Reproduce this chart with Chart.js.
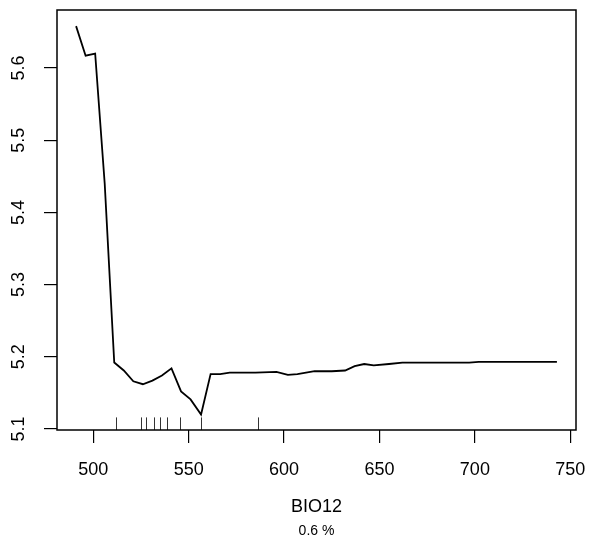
<!DOCTYPE html>
<html>
<head>
<meta charset="utf-8">
<script src="https://cdn.jsdelivr.net/npm/chart.js@4.4.1/dist/chart.umd.min.js"></script>
<style>
  html,body{margin:0;padding:0;background:#fff;}
  #wrap{width:590px;height:545px;}
</style>
</head>
<body>
<div id="wrap"><canvas id="c" width="590" height="545"></canvas></div>
<script>
// partial dependence on BIO12
const bioX = [491, 496, 501, 506, 511, 516, 521, 526, 531, 536, 541, 546, 551, 556.5, 561.5, 566.5, 571.5, 585, 596, 602, 607, 616, 625, 632, 637, 642, 647, 655, 662, 672, 697, 702, 743];
const bioY = [5.658, 5.617, 5.620, 5.440, 5.192, 5.181, 5.166, 5.162, 5.167, 5.174, 5.184, 5.152, 5.141, 5.120, 5.176, 5.176, 5.178, 5.178, 5.179, 5.175, 5.176, 5.180, 5.180, 5.181, 5.187, 5.190, 5.188, 5.190, 5.192, 5.192, 5.192, 5.193, 5.193];
// rug marks along the bottom
const rugX = [511.8, 524.9, 527.8, 531.8, 535, 538.8, 545.6, 556.7, 586.6];
const xTicks = [500, 550, 600, 650, 700, 750];
const yTicks = [5.1, 5.2, 5.3, 5.4, 5.5, 5.6];
const xTitle = "BIO12";
const subTitle = "0.6 %";

const FONT = '"Liberation Sans", Arial, Helvetica, sans-serif';

const rBox = {
  id:'rBox',
  beforeDatasetsDraw(chart){
    const {ctx, chartArea:a, scales:{x}} = chart;
    const h = (a.bottom - a.top) * 0.03;
    ctx.save();
    ctx.strokeStyle = '#333';
    ctx.lineWidth = 1;
    rugX.forEach(v=>{
      const px = Math.round(x.getPixelForValue(v)) + 0.5;
      ctx.beginPath();
      ctx.moveTo(px, a.bottom);
      ctx.lineTo(px, a.bottom - h);
      ctx.stroke();
    });
    ctx.restore();
  },
  afterDraw(chart){
    const {ctx, chartArea:a, scales:{y}} = chart;
    ctx.save();
    ctx.strokeStyle = '#000';
    ctx.lineWidth = 1.5;
    ctx.strokeRect(a.left, a.top, a.right - a.left, a.bottom - a.top);

    // rotated y labels, R style
    ctx.fillStyle = '#000';
    ctx.font = '18px ' + FONT;
    ctx.textAlign = 'center';
    ctx.textBaseline = 'middle';
    yTicks.forEach(v=>{
      const py = y.getPixelForValue(v);
      ctx.save();
      ctx.translate(19, py);
      ctx.rotate(-Math.PI/2);
      ctx.fillText(v.toFixed(1), 0, 0);
      ctx.restore();
    });

    const cx = (a.left + a.right) / 2;
    ctx.font = '18px ' + FONT;
    ctx.fillText(xTitle, cx, 507);
    ctx.font = '14px ' + FONT;
    ctx.fillText(subTitle, cx, 531);
    ctx.restore();
  }
};

new Chart(document.getElementById('c'), {
  type:'line',
  data:{
    datasets:[{
      data: bioX.map((v,i)=>({x:v, y:bioY[i]})),
      borderColor:'#000',
      borderWidth:1.8,
      pointRadius:0,
      tension:0,
      fill:false
    }]
  },
  options:{
    responsive:false,
    animation:false,
    devicePixelRatio:1,
    layout:{padding:{top:10, right:14, left:0, bottom:0}},
    plugins:{legend:{display:false}, tooltip:{enabled:false}},
    scales:{
      x:{
        type:'linear',
        min:481, max:753,
        afterBuildTicks:s=>{ s.ticks = xTicks.map(v=>({value:v})); },
        afterFit:s=>{ s.height = 115; s.paddingLeft = 0; s.paddingRight = 0; },
        grid:{drawOnChartArea:false, drawTicks:true, tickLength:13, color:'#000', lineWidth:1.2},
        border:{display:false},
        ticks:{autoSkip:false, maxRotation:0, color:'#000', padding:16, font:{family:FONT, size:18}}
      },
      y:{
        type:'linear',
        min:5.0986, max:5.6803,
        afterBuildTicks:s=>{ s.ticks = yTicks.map(v=>({value:v})); },
        afterFit:s=>{ s.width = 57; s.paddingTop = 0; s.paddingBottom = 0; },
        grid:{drawOnChartArea:false, drawTicks:true, tickLength:13, color:'#000', lineWidth:1.2},
        border:{display:false},
        ticks:{display:false}
      }
    }
  },
  plugins:[rBox]
});
</script>
</body>
</html>
